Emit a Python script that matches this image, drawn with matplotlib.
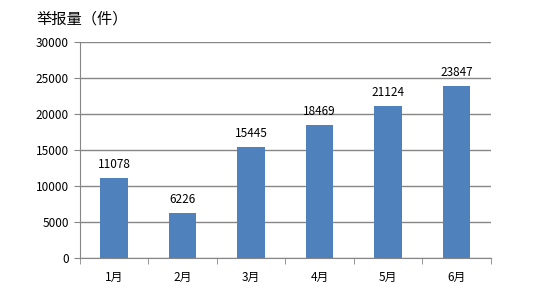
import matplotlib
matplotlib.use('Agg')
import matplotlib.pyplot as plt
import numpy as np

plt.rcParams['font.family'] = ['Noto Sans CJK SC', 'DejaVu Sans']

months = ['1月', '2月', '3月', '4月', '5月', '6月']
reports = [11078, 6226, 15445, 18469, 21124, 23847]

bar_color = '#4F81BD'
grid_color = '#868686'


def main():
    fig = plt.figure(figsize=(5.33, 2.92), dpi=100)
    ax = fig.add_axes([0.150, 0.116, 0.771, 0.740])

    x = np.arange(len(months))
    bars = ax.bar(x, reports, width=0.4, color=bar_color, zorder=3)
    for b, v in zip(bars, reports):
        ax.text(b.get_x() + b.get_width() / 2, v + 1000, str(v),
                ha='center', va='bottom', fontsize=8.5, color='black')

    ax.set_xlim(-0.5, len(months) - 0.5)
    ax.set_ylim(0, 30000)
    ax.set_yticks(np.arange(0, 30001, 5000))
    ax.set_xticks(x)
    ax.set_xticklabels(months, fontsize=8.5)
    ax.set_xticks(np.arange(-0.5, len(months), 1), minor=True)
    ax.tick_params(axis='x', which='major', length=0, pad=9)
    ax.tick_params(axis='x', which='minor', length=4, color=grid_color)
    ax.tick_params(axis='y', length=4, color=grid_color, labelsize=8.5, pad=4)

    ax.grid(axis='y', color=grid_color, linewidth=1, zorder=0)
    for s in ['top', 'right']:
        ax.spines[s].set_visible(False)
    for s in ['left', 'bottom']:
        ax.spines[s].set_color(grid_color)

    fig.text(0.069, 0.936, '举报量（件）', fontsize=11, va='center', ha='left')

    fig.savefig('out.png', dpi=100)


if __name__ == '__main__':
    main()
